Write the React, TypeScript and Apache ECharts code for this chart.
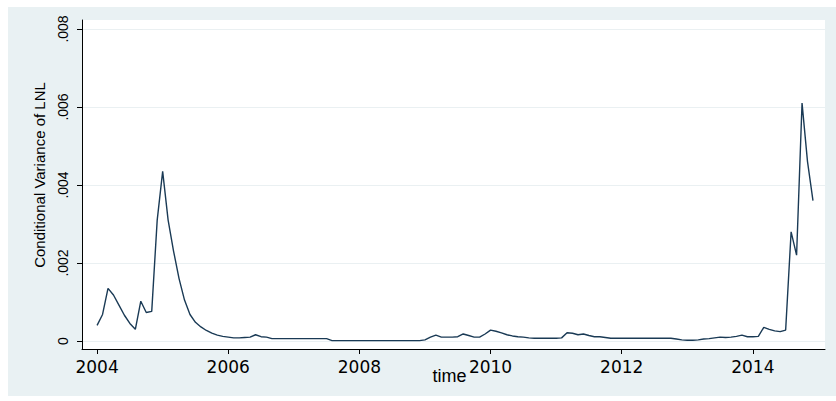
import React, { useEffect, useRef } from "react";
import * as echarts from "echarts";

// Monthly conditional variance of LNL, Jan 2004 .. Dec 2014
const startYear = 2004;
const values2004 = [0.0004, 0.00068, 0.00135, 0.00118, 0.00092, 0.00066, 0.00045, 0.0003, 0.00102, 0.00073, 0.00076, 0.0031];
const values2005 = [0.00435, 0.0031, 0.0023, 0.0016, 0.00105, 0.00068, 0.00048, 0.00036, 0.00027, 0.0002, 0.00015, 0.00012];
const values2006 = [0.0001, 0.00008, 0.00008, 0.00009, 0.0001, 0.00016, 0.00011, 0.0001, 0.00006, 0.00006, 0.00006, 0.00006];
const values2007 = [0.00006, 0.00006, 0.00006, 0.00006, 0.00006, 0.00006, 0.00006, 0.00001, 0.00001, 0.00001, 0.00001, 0.00001];
const values2008 = [0.00001, 0.00001, 0.00001, 0.00001, 0.00001, 0.00001, 0.00001, 0.00001, 0.00001, 0.00001, 0.00001, 0.00001];
const values2009 = [0.00003, 0.0001, 0.00015, 0.0001, 0.0001, 0.0001, 0.00011, 0.00018, 0.00014, 0.0001, 0.0001, 0.00018];
const values2010 = [0.00028, 0.00025, 0.00021, 0.00016, 0.00013, 0.00011, 0.0001, 0.00008, 0.00007, 0.00007, 0.00007, 0.00007];
const values2011 = [0.00007, 0.00008, 0.00021, 0.0002, 0.00016, 0.00018, 0.00014, 0.00011, 0.00011, 0.00009, 0.00007, 0.00007];
const values2012 = [0.00007, 0.00007, 0.00007, 0.00007, 0.00007, 0.00007, 0.00007, 0.00007, 0.00007, 0.00007, 0.00005, 0.00003];
const values2013 = [0.00002, 0.00002, 0.00003, 0.00005, 0.00006, 0.00008, 0.0001, 0.00009, 0.0001, 0.00012, 0.00015, 0.00011];
const values2014 = [0.00011, 0.00012, 0.00035, 0.0003, 0.00026, 0.00024, 0.00028, 0.0028, 0.0022, 0.0061, 0.0046, 0.0036];

const yearlyValues = [values2004, values2005, values2006, values2007, values2008, values2009, values2010, values2011, values2012, values2013, values2014];

const xTicks = [2004, 2006, 2008, 2010, 2012, 2014];
const yTicks = [0, 0.002, 0.004, 0.006, 0.008];

const xTitle = "time";
const yTitle = "Conditional Variance of LNL";

export default function App() {
  const ref = useRef<HTMLDivElement>(null);

  useEffect(() => {
    if (!ref.current) return;
    const chart = echarts.init(ref.current, undefined, { renderer: "svg" });
    const data: [number, number][] = [];
    yearlyValues.forEach((arr, yi) => {
      arr.forEach((v, m) => {
        data.push([startYear + yi + m / 12, v]);
      });
    });
    const font = "'Liberation Sans', Arial, sans-serif";
    chart.setOption({
      animation: false,
      backgroundColor: "transparent",
      grid: {
        left: 82,
        right: 11,
        top: 20,
        bottom: 52,
        show: true,
        backgroundColor: "#ffffff",
        borderWidth: 0,
        containLabel: false,
      },
      xAxis: {
        type: "value",
        min: 2003.77,
        max: 2015.1,
        name: xTitle,
        nameLocation: "middle",
        nameGap: 18,
        nameMoveOverlap: false,
        nameTextStyle: { fontSize: 18, fontFamily: font, color: "#000", padding: [0, 8, 0, 0] },
        axisLine: { show: true, onZero: false, lineStyle: { color: "#000", width: 1 } },
        axisTick: { show: true, length: 5, customValues: xTicks, lineStyle: { color: "#000" } },
        axisLabel: {
          customValues: xTicks,
          fontSize: 17,
          fontFamily: "'DejaVu Sans', sans-serif",
          color: "#000",
          margin: 9,
          formatter: (v: number) => String(Math.round(v)),
        },
        splitLine: { show: false },
      },
      yAxis: {
        type: "value",
        min: -0.000205,
        max: 0.00823,
        axisLine: { show: true, onZero: false, lineStyle: { color: "#000", width: 1 } },
        axisTick: { show: true, length: 5, customValues: yTicks, lineStyle: { color: "#000" } },
        axisLabel: {
          customValues: yTicks,
          rotate: 90,
          fontSize: 14,
          fontFamily: font,
          color: "#000",
          margin: 12,
          formatter: (v: number) => (Math.abs(v) < 1e-12 ? "0" : v.toFixed(3).replace(/^0/, "")),
        },
        splitLine: { show: true, lineStyle: { color: "#eaf0f2", width: 1 } },
      },
      graphic: [
        {
          type: "text",
          x: 39,
          y: 175,
          rotation: Math.PI / 2,
          style: {
            text: yTitle,
            fontSize: 15,
            fontFamily: font,
            fill: "#000",
            align: "center",
            verticalAlign: "middle",
          },
        },
      ],
      series: [
        {
          type: "line",
          data,
          showSymbol: false,
          symbol: "none",
          lineStyle: { color: "#1a3a55", width: 1.4 },
        },
      ],
    });
    return () => chart.dispose();
  }, []);

  return (
    <div style={{ position: "fixed", left: 0, top: 0, width: 836, height: 401, background: "#ffffff" }}>
      <div
        style={{
          position: "absolute",
          left: 8,
          top: 7,
          width: 828,
          height: 389,
          background: "#e9f1f3",
        }}
      />
      <div ref={ref} style={{ position: "absolute", left: 0, top: 0, width: 836, height: 401 }} />
    </div>
  );
}
